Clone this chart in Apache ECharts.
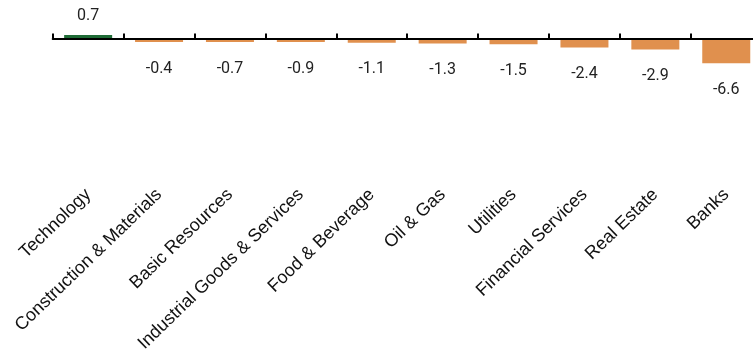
<!DOCTYPE html>
<html>
<head>
<meta charset="utf-8">
<style>
  html, body { margin: 0; padding: 0; background: #ffffff; }
  #chart { width: 753px; height: 358px; }
</style>
<script src="https://cdn.jsdelivr.net/npm/echarts@6/dist/echarts.min.js"></script>
</head>
<body>
<div id="chart"></div>
<script>
// Sector performance (%)
const sectors = [
  'Technology', 'Construction & Materials', 'Basic Resources',
  'Industrial Goods & Services', 'Food & Beverage', 'Oil & Gas',
  'Utilities', 'Financial Services', 'Real Estate', 'Banks'
];
const changes = [0.7, -0.4, -0.7, -0.9, -1.1, -1.3, -1.5, -2.4, -2.9, -6.6];

const UP_COLOR = '#1e6b35';
const DOWN_COLOR = '#e0904e';

const barData = changes.map(v => ({
  value: v,
  itemStyle: { color: v >= 0 ? UP_COLOR : DOWN_COLOR },
  label: v >= 0
    ? { position: 'top', distance: 11 }
    : { position: 'bottom', distance: 18.5 }
}));

// the plot runs a little past the right edge of the canvas
const PLOT_LEFT = 52.7;
const PLOT_WIDTH = 709;

const chart = echarts.init(document.getElementById('chart'), null, { renderer: 'canvas' });
chart.setOption({
  animation: false,
  grid: [
    // bars, with the zero line near the top
    { left: PLOT_LEFT, width: PLOT_WIDTH, top: 1, bottom: 57, containLabel: false, outerBoundsMode: 'none' },
    // rotated sector names below the bars
    { left: PLOT_LEFT, width: PLOT_WIDTH, top: 0, height: 186, containLabel: false, outerBoundsMode: 'none' }
  ],
  xAxis: [
    {
      type: 'category',
      gridIndex: 0,
      data: sectors,
      boundaryGap: true,
      axisLine: { onZero: true, lineStyle: { color: '#000', width: 2 } },
      axisTick: { show: true, interval: 0, inside: true, length: 5, lineStyle: { color: '#000', width: 2 } },
      axisLabel: { show: false },
      z: 5
    },
    {
      type: 'category',
      gridIndex: 1,
      data: sectors,
      position: 'bottom',
      axisLine: { show: false },
      axisTick: { show: false },
      axisLabel: {
        interval: 0,
        rotate: 44,
        margin: 6,
        fontFamily: '"Liberation Sans", Arial, sans-serif',
        fontSize: 18,
        color: '#111'
      }
    }
  ],
  yAxis: [
    { type: 'value', gridIndex: 0, min: -70, max: 10, show: false, splitLine: { show: false } },
    { type: 'value', gridIndex: 1, show: false, splitLine: { show: false } }
  ],
  series: [{
    type: 'bar',
    xAxisIndex: 0,
    yAxisIndex: 0,
    data: barData,
    barWidth: 48,
    barMinHeight: 3.5,
    z: 2,
    label: {
      show: true,
      fontFamily: 'Roboto, sans-serif',
      fontSize: 16,
      color: '#222',
      formatter: p => p.value.toFixed(1)
    }
  }]
});
</script>
</body>
</html>
